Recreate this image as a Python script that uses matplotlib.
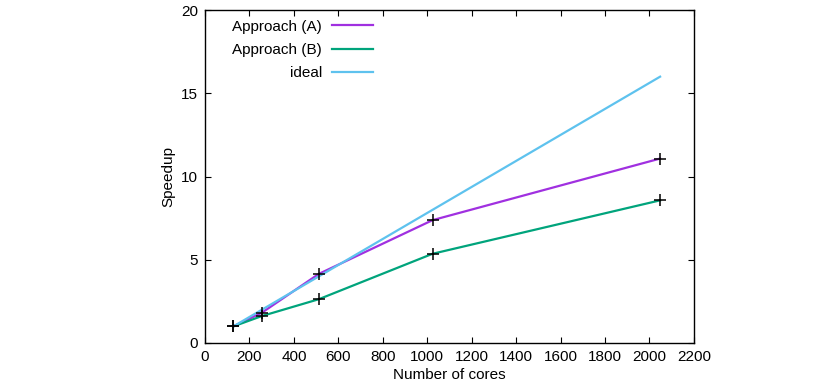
import matplotlib
matplotlib.use("Agg")
import matplotlib.pyplot as plt

plt.rcParams['font.family'] = ['Liberation Sans', 'DejaVu Sans']
plt.rcParams['font.size'] = 11

# Data
cores = [128, 256, 512, 1024, 2048]
speedup_a = [1.0, 1.82, 4.15, 7.38, 11.08]
speedup_b = [1.0, 1.62, 2.63, 5.36, 8.57]
ideal = [1, 2, 4, 8, 16]

fig = plt.figure(figsize=(8.3, 3.88), dpi=100)
ax = fig.add_axes([0.247, 0.116, 0.589, 0.858])

ax.plot(cores, speedup_a, color='#a030e0', lw=1.6, label='Approach (A)')
ax.plot(cores, speedup_b, color='#00a47c', lw=1.6, label='Approach (B)')
ax.plot(cores, ideal, color='#5ec2ee', lw=1.6, label='ideal')

# point markers
ax.plot(cores, speedup_a, ls='none', marker='+', ms=9, mew=1.1, color='black')
ax.plot(cores, speedup_b, ls='none', marker='+', ms=9, mew=1.1, color='black')

ax.set_xlim(0, 2200)
ax.set_ylim(0, 20)
ax.set_xticks(range(0, 2201, 200))
ax.set_yticks(range(0, 21, 5))
ax.tick_params(direction='in', top=True, right=True, length=4, width=0.8,
               labelsize=11, pad=5)
for s in ax.spines.values():
    s.set_linewidth(1.0)

ax.set_xlabel('Number of cores', labelpad=3)
ax.set_ylabel('Speedup', labelpad=4)

ax.legend(loc='upper left', bbox_to_anchor=(0.028, 1.012), frameon=False,
          markerfirst=False, handlelength=2.7, handletextpad=0.65,
          labelspacing=0.6, fontsize=11)

fig.savefig('out.png', dpi=100)
